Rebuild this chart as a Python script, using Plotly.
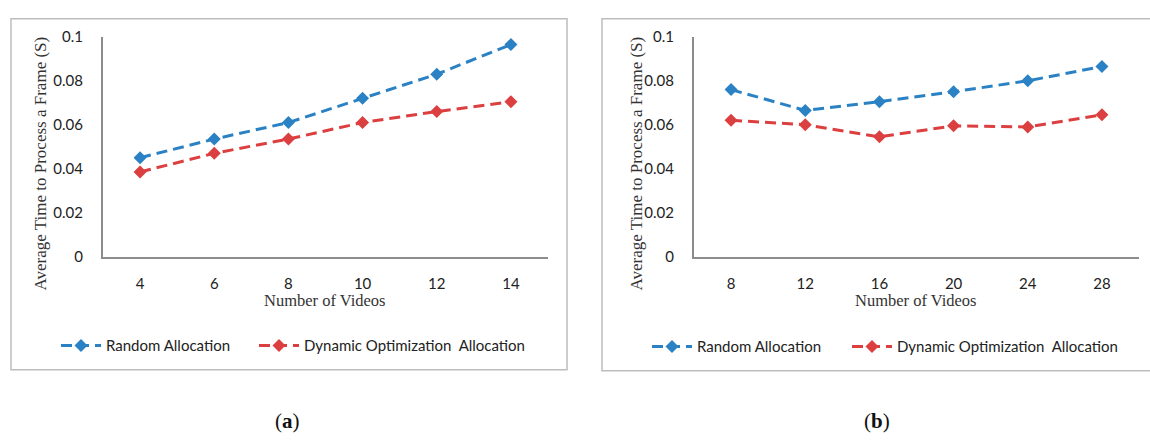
import plotly.graph_objects as go

# ---- data ----
videos_a = [4, 6, 8, 10, 12, 14]
random_a = [0.045, 0.0535, 0.061, 0.072, 0.083, 0.0965]
dynamic_a = [0.0385, 0.047, 0.0535, 0.061, 0.066, 0.0705]

videos_b = [8, 12, 16, 20, 24, 28]
random_b = [0.076, 0.0665, 0.0705, 0.075, 0.080, 0.0865]
dynamic_b = [0.062, 0.060, 0.0545, 0.0595, 0.059, 0.0645]

series_names = ["Random Allocation", "Dynamic Optimization  Allocation"]
y_ticks = [0, 0.02, 0.04, 0.06, 0.08, 0.1]
y_tick_text = ["0", "0.02", "0.04", "0.06", "0.08", "0.1"]

BLUE = "#2A82C4"
RED = "#DC3F3F"
W, H = 1150, 443
SANS = "Lato, Liberation Sans, sans-serif"
SERIF = "Liberation Serif, Times New Roman, serif"

fig = go.Figure()

def add_series(x, y, name, color, xa, ya, leg):
    fig.add_trace(go.Scatter(
        x=x, y=y, name=name, mode="lines+markers",
        line=dict(color=color, width=3, dash="11px,6px"),
        marker=dict(symbol="diamond", size=10, color=color),
        xaxis=xa, yaxis=ya, legend=leg, showlegend=True,
    ))

add_series(videos_a, random_a, series_names[0], BLUE, "x", "y", "legend")
add_series(videos_a, dynamic_a, series_names[1], RED, "x", "y", "legend2")
add_series(videos_b, random_b, series_names[0], BLUE, "x2", "y2", "legend3")
add_series(videos_b, dynamic_b, series_names[1], RED, "x2", "y2", "legend4")

ydom = [1 - 257 / H, 1 - 28 / H]
axis_common = dict(showgrid=False, zeroline=False, showline=True,
                   linecolor="#8C8C8C", linewidth=2,
                   tickfont=dict(family=SANS, size=15, color="#222"),
                   ticks="", fixedrange=True)

legend_common = dict(orientation="h", xanchor="left", yanchor="middle",
                     font=dict(family=SANS, size=15, color="#222"),
                     bgcolor="rgba(0,0,0,0)", itemwidth=40, tracegroupgap=0)

fig.update_layout(
    width=W, height=H,
    margin=dict(l=0, r=0, t=0, b=0),
    paper_bgcolor="white", plot_bgcolor="white",
    xaxis=dict(domain=[103 / W, 548 / W], range=[3, 15], anchor="y",
               tickvals=videos_a, ticklabelstandoff=12, **axis_common),
    yaxis=dict(domain=ydom, range=[0, 0.1], anchor="x",
               tickvals=y_ticks, ticktext=y_tick_text, ticklabelstandoff=15, **axis_common),
    xaxis2=dict(domain=[694 / W, 1139 / W], range=[6, 30], anchor="y2",
                tickvals=videos_b, ticklabelstandoff=12, **axis_common),
    yaxis2=dict(domain=ydom, range=[0, 0.1], anchor="x2",
                tickvals=y_ticks, ticktext=y_tick_text, ticklabelstandoff=15, **axis_common),
    legend=dict(x=56 / W, y=1 - 350 / H, **legend_common),
    legend2=dict(x=254 / W, y=1 - 350 / H, **legend_common),
    legend3=dict(x=647 / W, y=1 - 351 / H, **legend_common),
    legend4=dict(x=847 / W, y=1 - 351 / H, **legend_common),
)

# panel borders
for x0, x1, y1 in [(11, 567, 375), (602, 1152, 376)]:
    fig.add_shape(type="rect", xref="paper", yref="paper",
                  x0=x0 / W, x1=x1 / W, y0=1 - y1 / H, y1=1 - 9 / H,
                  line=dict(color="#BDBDBD", width=1.5), fillcolor="rgba(0,0,0,0)", layer="below")

# axis titles
ytitle = "Average Time to Process a Frame (S)"
xtitle = "Number of Videos"
for xc, ycx in [(40, 325), (636, 916)]:
    fig.add_annotation(text=ytitle, xref="paper", yref="paper", x=xc / W, y=1 - 160 / H,
                       showarrow=False, textangle=-90, xanchor="center", yanchor="middle",
                       font=dict(family=SERIF, size=17, color="#333"))
    fig.add_annotation(text=xtitle, xref="paper", yref="paper", x=ycx / W, y=1 - 303 / H,
                       showarrow=False, xanchor="center", yanchor="middle",
                       font=dict(family=SERIF, size=16.5, color="#333"))

# captions
for xc, lab in [(287, "(<b>a</b>)"), (877, "(<b>b</b>)")]:
    fig.add_annotation(text=lab, xref="paper", yref="paper", x=xc / W, y=1 - 428 / H,
                       showarrow=False, xanchor="center", yanchor="middle",
                       font=dict(family=SERIF, size=21, color="#111"))

fig.write_html("out.html", config={"displayModeBar": False},
               post_script="document.body.style.margin='0';document.body.style.overflow='hidden';")
